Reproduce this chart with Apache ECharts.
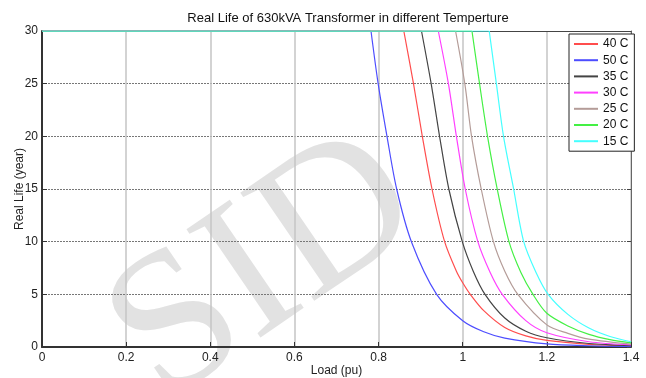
<!DOCTYPE html>
<html>
<head>
<meta charset="utf-8">
<script src="https://cdn.jsdelivr.net/npm/echarts@6/dist/echarts.min.js"></script>
<style>
  html, body { margin: 0; padding: 0; background: #fff; }
  #chart { width: 646px; height: 378px; }
</style>
</head>
<body>
<div id="chart"></div>
<script>
// legend names, in legend order
const tempNames = ['40 C', '50 C', '35 C', '30 C', '25 C', '20 C', '15 C']
const tempColors = ['#ff4d4d', '#4d4dff', '#444444', '#ff40ff', '#b49c98', '#44f044', '#44ffff']

// life is capped at 30 years up to this load (pu)
const capLoad = [0.860, 0.782, 0.902, 0.942, 0.983, 1.022, 1.063]
const lifeCap = 30

// [load (pu), real life (year)], after the cap
const life40 = [[0.860, 30], [0.883, 25], [0.904, 20], [0.927, 15], [0.957, 10], [0.985, 7.2], [1.0, 6.1], [1.018, 5], [1.05, 3.45], [1.1, 1.85], [1.15, 1.05], [1.2, 0.62], [1.3, 0.25], [1.4, 0.1]]
const life50 = [[0.782, 30], [0.799, 25], [0.820, 20], [0.843, 15], [0.878, 10], [0.938, 5], [1.0, 2.5], [1.05, 1.45], [1.1, 0.85], [1.2, 0.3], [1.3, 0.12], [1.4, 0.05]]
const life35 = [[0.902, 30], [0.925, 25], [0.945, 20], [0.967, 15], [0.999, 10], [1.025, 7.2], [1.053, 5], [1.1, 2.75], [1.15, 1.5], [1.2, 0.88], [1.3, 0.33], [1.4, 0.13]]
const life30 = [[0.942, 30], [0.966, 25], [0.985, 20], [1.006, 15], [1.036, 10], [1.065, 7.1], [1.094, 5], [1.15, 2.5], [1.2, 1.35], [1.3, 0.5], [1.4, 0.2]]
const life25 = [[0.983, 30], [1.005, 25], [1.021, 20], [1.044, 15], [1.073, 10], [1.1, 7.2], [1.131, 5], [1.2, 2.1], [1.25, 1.3], [1.3, 0.75], [1.4, 0.27]]
const life20 = [[1.022, 30], [1.040, 25], [1.059, 20], [1.082, 15], [1.110, 10], [1.138, 7.1], [1.167, 5], [1.2, 3.2], [1.25, 2.0], [1.3, 1.2], [1.35, 0.7], [1.4, 0.4]]
const life15 = [[1.063, 30], [1.080, 25], [1.097, 20], [1.121, 15], [1.145, 10], [1.174, 7.1], [1.203, 5], [1.25, 3.1], [1.3, 1.8], [1.35, 1.0], [1.4, 0.5]]

const lifeData = [life40, life50, life35, life30, life25, life20, life15]

// ticks
const loadTicks = { min: 0, max: 1.4, interval: 0.2 }
const lifeTicks = { min: 0, max: 30, interval: 5 }

const fontName = '"Liberation Sans", Arial, sans-serif'

// each temperature: a flat capped part plus the falling curve, same name so the legend shows one item
const seriesList = []
tempNames.forEach((name, i) => {
  const base = {
    name: name,
    type: 'line',
    symbol: 'none',
    lineStyle: { color: tempColors[i], width: 1.2 },
    itemStyle: { color: tempColors[i] },
    emphasis: { disabled: true }
  }
  seriesList.push({ ...base, data: [[0, lifeCap], [capLoad[i], lifeCap]] })
  seriesList.push({ ...base, data: lifeData[i], smooth: 0.3 })
})

const option = {
  animation: false,
  backgroundColor: '#fff',
  title: {
    text: 'Real Life of 630kVA Transformer in different Temperture',
    left: 343,
    top: 7,
    textAlign: 'center',
    textStyle: { fontFamily: fontName, fontSize: 13, fontWeight: 'normal', color: '#111' }
  },
  // the grey watermark behind the plot
  graphic: [
    {
      type: 'text',
      x: 266,
      y: 270,
      rotation: 0.6,
      z: -10,
      silent: true,
      style: {
        text: 'SID',
        font: '200px "Liberation Serif", "DejaVu Serif", serif',
        fill: '#e2e2e2',
        textAlign: 'center',
        textVerticalAlign: 'middle'
      }
    }
  ],
  legend: {
    data: tempNames,
    orient: 'vertical',
    left: 569,
    top: 34,
    padding: [3, 6, 3, 5],
    itemWidth: 24,
    itemHeight: 2,
    itemGap: 2.2,
    icon: 'rect',
    backgroundColor: '#fff',
    borderColor: '#222',
    borderWidth: 1,
    z: 10,
    textStyle: { fontFamily: fontName, fontSize: 12, color: '#111', lineHeight: 14 }
  },
  grid: { left: 42, right: 15, top: 31, bottom: 31, containLabel: false, outerBoundsMode: 'none' },
  xAxis: [
    {
      type: 'value',
      ...loadTicks,
      name: 'Load (pu)',
      nameLocation: 'middle',
      nameGap: 18,
      nameMoveOverlap: false,
      nameTextStyle: { fontFamily: fontName, fontSize: 12, color: '#222' },
      axisLine: { show: true, onZero: false, lineStyle: { color: '#333', width: 2 } },
      axisTick: { show: true, inside: true, length: 5, lineStyle: { color: '#333' } },
      axisLabel: { fontFamily: fontName, fontSize: 12, color: '#222', margin: 5 },
      splitLine: { show: true, lineStyle: { color: '#c4c4c4', width: 1.5 } }
    },
    {
      type: 'value',
      position: 'top',
      ...loadTicks,
      axisLine: { show: true, onZero: false, lineStyle: { color: '#444', width: 1 } },
      axisTick: { show: false },
      axisLabel: { show: false },
      splitLine: { show: false }
    }
  ],
  yAxis: [
    {
      type: 'value',
      ...lifeTicks,
      name: 'Real Life (year)',
      nameLocation: 'middle',
      nameGap: 16,
      nameMoveOverlap: false,
      nameTextStyle: { fontFamily: fontName, fontSize: 12, color: '#222' },
      axisLine: { show: true, onZero: false, lineStyle: { color: '#333', width: 2 } },
      axisTick: { show: true, inside: true, length: 5, lineStyle: { color: '#333' } },
      axisLabel: { fontFamily: fontName, fontSize: 12, color: '#222', margin: 4 },
      splitLine: { show: true, lineStyle: { color: '#777', width: 1, type: [2, 1] } }
    },
    {
      type: 'value',
      position: 'right',
      ...lifeTicks,
      axisLine: { show: true, onZero: false, lineStyle: { color: '#666', width: 1 } },
      axisTick: { show: true, inside: true, length: 4, lineStyle: { color: '#444' } },
      axisLabel: { show: false },
      splitLine: { show: false }
    }
  ],
  series: seriesList
}

const lineChart = echarts.init(document.getElementById('chart'), null, { renderer: 'canvas' })
lineChart.setOption(option)
</script>
</body>
</html>
